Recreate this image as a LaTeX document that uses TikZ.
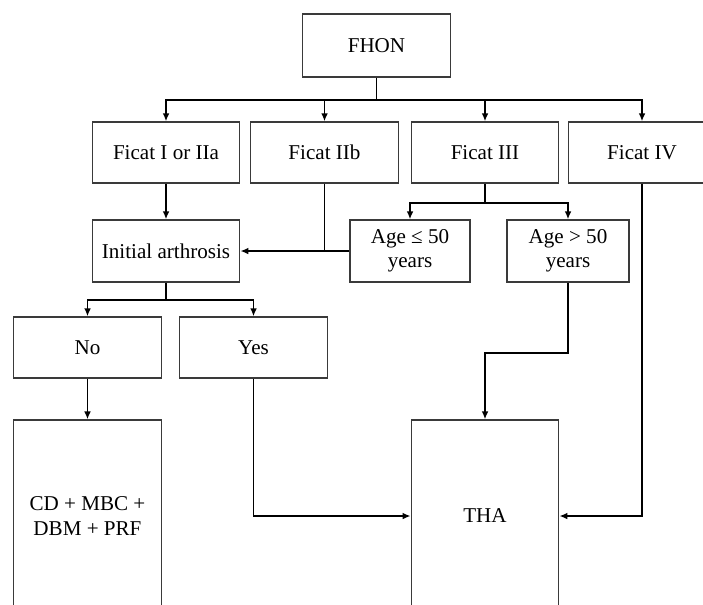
\documentclass[tikz,border=0pt]{standalone}
\usepackage{fontspec}
\setmainfont{Liberation Serif}
\usetikzlibrary{arrows.meta,positioning,calc}
\definecolor{boxgrey}{HTML}{3A3A3A}

\begin{document}
\begin{tikzpicture}[
every node/.style={font=\fontsize{12}{13.8}\selectfont},
stage/.style={draw=boxgrey,line width=0.75pt,minimum width=2.95cm,
minimum height=1.22cm,align=center,inner sep=2pt},
arr/.style={-{Latex[length=4.5pt,width=3.8pt]},line width=0.95pt},
link/.style={line width=0.95pt}
]
\path[use as bounding box,clip] (0,0) rectangle (14.06,-12.08);
\node[stage,minimum height=1.26cm] (fhon) at (7.53,-0.91) {FHON};
\node[stage] (f1) at (3.32,-3.05)  {Ficat I or IIa};
\node[stage] (f2) at (6.49,-3.05)  {Ficat IIb};
\node[stage] (f3) at (9.70,-3.05)  {Ficat III};
\node[stage] (f4) at (12.84,-3.05) {Ficat IV};
\node[stage,minimum height=1.24cm] (ia) at (3.32,-5.02) {Initial arthrosis};
\node[stage,minimum width=2.40cm,minimum height=1.24cm] (age1) at (8.20,-5.02) {Age ≤ 50\\ years};
\node[stage,minimum width=2.44cm,minimum height=1.24cm] (age2) at (11.36,-5.02) {Age > 50\\ years};
\node[stage] (no)  at (1.75,-6.95) {No};
\node[stage] (yes) at (5.07,-6.95) {Yes};
\node[stage,minimum height=3.84cm] (cd)  at (1.75,-10.32) {CD + MBC +\\ DBM + PRF};
\node[stage,minimum height=3.84cm] (tha) at (9.70,-10.32) {THA};
\coordinate (bus1) at ($(fhon.south)+(0,-0.44)$);
\coordinate (bus2) at ($(f3.south)+(0,-0.38)$);
\coordinate (bus3) at ($(ia.south)+(0,-0.34)$);
\coordinate (elbow) at ($(age2.south)+(0,-1.40)$);
\draw[link] (fhon.south) -- (bus1);
\foreach \n in {f1,f2,f3,f4} \draw[arr] (bus1) -| (\n.north);
\draw[arr] (f1.south) -- (ia.north);
\draw[link] (f2.south) -- (f2.south |- ia.east);
\draw[arr] (age1.west) -- (ia.east);
\draw[link] (f3.south) -- (bus2);
\draw[arr] (bus2) -| (age1.north); \draw[arr] (bus2) -| (age2.north);
\draw[link] (ia.south) -- (bus3);
\draw[arr] (bus3) -| (no.north); \draw[arr] (bus3) -| (yes.north);
\draw[arr] (no.south) -- (cd.north);
\draw[arr] (yes.south) |- (tha.west);
\draw[arr] (age2.south) -- (elbow) -| (tha.north);
\draw[arr] (f4.south) |- (tha.east);
\end{tikzpicture}
\end{document}
